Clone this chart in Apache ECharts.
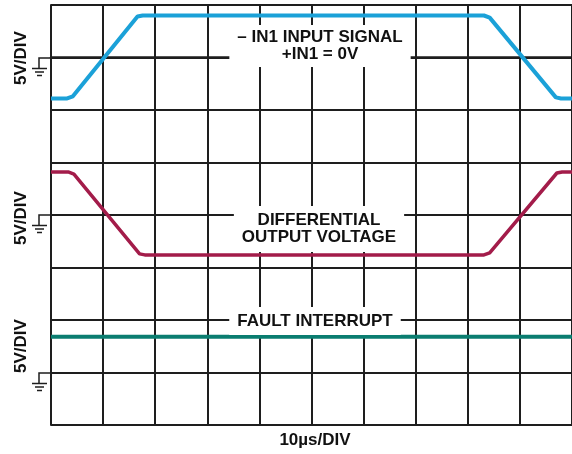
<!DOCTYPE html>
<html>
<head>
<meta charset="utf-8">
<script src="https://cdn.jsdelivr.net/npm/echarts@6/dist/echarts.min.js"></script>
<style>
  html, body { margin: 0; padding: 0; background: #fff; }
  #chart { width: 572px; height: 454px; }
</style>
</head>
<body>
<div id="chart"></div>
<script>
// time in µs, level in volts (5V/DIV, each trace on its own ground)
const inputSignal = [[0, -3.9], [3.1, -3.9], [4.2, -3.7], [16.6, 3.9], [17.6, 4.0], [83.1, 4.0], [84.2, 3.8], [96.9, -3.8], [97.9, -3.9], [100, -3.9]];
const outputVoltage = [[0, 4.1], [3.3, 4.1], [4.4, 3.9], [17.0, -3.7], [18.0, -3.8], [83.1, -3.8], [84.2, -3.6], [97.1, 4.0], [98.1, 4.1], [100, 4.1]];
const faultInterrupt = [[0, 3.4], [100, 3.4]];

const traceNames = ['– IN1 INPUT SIGNAL\n+IN1 = 0V', 'DIFFERENTIAL\nOUTPUT VOLTAGE', 'FAULT INTERRUPT'];
const xLabel = '10µs/DIV';
const yLabel = '5V/DIV';

const gridColor = '#1e1e1e';
const font = 'Liberation Sans, Arial, sans-serif';

const chart = echarts.init(document.getElementById('chart'));

const hiddenAxis = (min, max) => ({
    type: 'value',
    min: min,
    max: max,
    interval: 5,
    axisLabel: { show: false },
    axisTick: { show: false },
    axisLine: { show: false },
    splitLine: { show: false }
});

chart.setOption({
    backgroundColor: '#fff',
    animation: false,
    grid: { left: 51, top: 5, width: 522, height: 420 },
    xAxis: {
        type: 'value',
        min: 0,
        max: 100,
        interval: 10,
        axisLabel: { show: false },
        axisTick: { show: false },
        axisLine: { show: true, lineStyle: { color: gridColor, width: 2.5 } },
        splitLine: { show: true, lineStyle: { color: gridColor, width: 2 } }
    },
    yAxis: [
        {
            // input trace, ground 1 div below top; also draws the grid
            type: 'value',
            min: -35,
            max: 5,
            interval: 5,
            axisLabel: { show: false },
            axisTick: { show: false },
            axisLine: { show: true, lineStyle: { color: gridColor, width: 2 } },
            splitLine: { show: true, lineStyle: { color: gridColor, width: 2 } }
        },
        hiddenAxis(-20, 20),
        hiddenAxis(-5, 35)
    ],
    series: [
        {
            name: 'input', type: 'line', yAxisIndex: 0, data: inputSignal,
            showSymbol: false, z: 5,
            lineStyle: { color: '#1ba1d8', width: 4 }
        },
        {
            name: 'output', type: 'line', yAxisIndex: 1, data: outputVoltage,
            showSymbol: false, z: 5,
            lineStyle: { color: '#a31c4a', width: 3.5 }
        },
        {
            name: 'fault', type: 'line', yAxisIndex: 2, data: faultInterrupt,
            showSymbol: false, z: 5,
            lineStyle: { color: '#0a7d70', width: 4 }
        }
    ]
});

// ground markers and captions
const groundMark = (y) => ({
    type: 'group',
    children: [
        { type: 'polyline', shape: { points: [[51, y], [39, y], [39, y + 10]] }, style: { stroke: gridColor, lineWidth: 1.5, fill: null } },
        { type: 'line', shape: { x1: 32, y1: y + 10.5, x2: 47, y2: y + 10.5 }, style: { stroke: gridColor, lineWidth: 1.5 } },
        { type: 'line', shape: { x1: 35, y1: y + 14, x2: 44, y2: y + 14 }, style: { stroke: gridColor, lineWidth: 1.5 } },
        { type: 'line', shape: { x1: 37, y1: y + 17.5, x2: 42, y2: y + 17.5 }, style: { stroke: gridColor, lineWidth: 1.5 } }
    ]
});

const caption = (text, x, y, pad) => ({
    type: 'text',
    x: x, y: y, z: 10,
    style: {
        text: text,
        font: 'bold 17px ' + font,
        fill: '#111',
        align: 'center',
        verticalAlign: 'middle',
        lineHeight: 17,
        backgroundColor: '#fff',
        padding: pad
    }
});

const vLabel = (y) => ({
    type: 'text',
    x: 21, y: y, rotation: Math.PI / 2,
    style: {
        text: yLabel,
        font: 'bold 17px ' + font,
        fill: '#111',
        align: 'center',
        verticalAlign: 'middle'
    }
});

const grounds = [0, 1, 2].map(i => Math.round(chart.convertToPixel({ yAxisIndex: i }, 0)));

chart.setOption({
    graphic: [
        ...grounds.map(groundMark),
        vLabel(58), vLabel(218), vLabel(346),
        caption(traceNames[0], 320, 46, [5, 8, 3, 8]),
        caption(traceNames[1], 319, 229, [6, 8, 6, 8]),
        caption(traceNames[2], 315, 321, [6, 8, 5, 8]),
        {
            type: 'text', x: 315, y: 440,
            style: { text: xLabel, font: 'bold 17px ' + font, fill: '#111', align: 'center', verticalAlign: 'middle' }
        }
    ]
});
</script>
</body>
</html>
